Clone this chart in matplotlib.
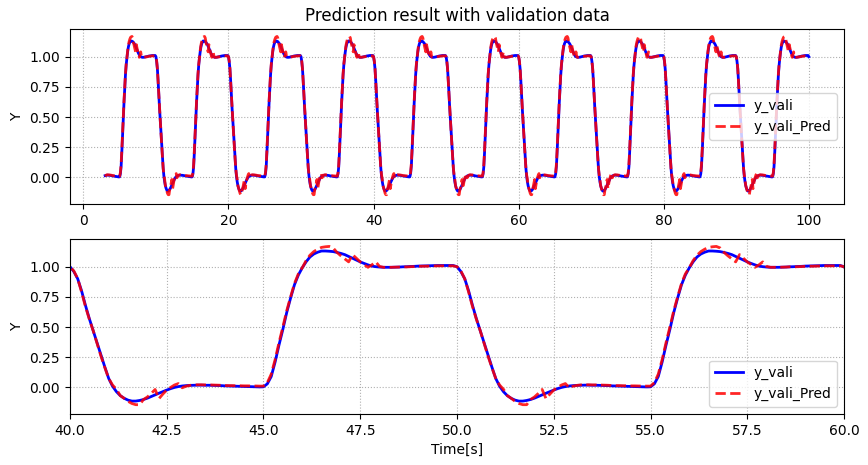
import numpy as np
import matplotlib
matplotlib.use("Agg")
import matplotlib.pyplot as plt

# One cycle (10 s, 0.1 s step) of the validation output, starting at a falling edge
y_cycle = [
    1.000, 0.960, 0.900, 0.800, 0.680, 0.570, 0.470, 0.370, 0.270, 0.170,
    0.075, 0.010, -0.035, -0.068, -0.090, -0.105, -0.113, -0.113, -0.108, -0.100,
    -0.089, -0.075, -0.062, -0.048, -0.035, -0.022, -0.010, 0.000, 0.007, 0.012,
    0.015, 0.017, 0.018, 0.019, 0.019, 0.018, 0.018, 0.017, 0.016, 0.015,
    0.013, 0.012, 0.011, 0.010, 0.009, 0.008, 0.007, 0.006, 0.005, 0.004,
    0.005, 0.030, 0.090, 0.210, 0.350, 0.480, 0.620, 0.740, 0.850, 0.930,
    0.990, 1.040, 1.080, 1.105, 1.120, 1.130, 1.130, 1.128, 1.125, 1.118,
    1.110, 1.100, 1.085, 1.070, 1.055, 1.040, 1.027, 1.015, 1.005, 1.000,
    0.997, 0.995, 0.995, 0.995, 0.996, 0.997, 0.999, 1.000, 1.002, 1.003,
    1.005, 1.006, 1.007, 1.008, 1.009, 1.010, 1.010, 1.010, 1.010, 1.010,
]

# One cycle of the prediction, read as its deviation from the validation output
pred_dev_cycle = [
    0.000, 0.005, 0.000, -0.010, -0.010, -0.005, 0.000, -0.005, -0.010, -0.005,
    0.000, 0.010, 0.020, 0.000, 0.000, -0.010, -0.020, -0.030, -0.035, 0.000,
    0.010, 0.025, 0.045, -0.045, -0.020, 0.000, 0.010, 0.020, 0.025, -0.015,
    -0.005, 0.000, 0.003, 0.003, 0.003, 0.003, 0.003, 0.003, 0.003, 0.003,
    0.003, 0.003, 0.004, 0.004, 0.005, 0.005, 0.006, 0.006, 0.007, 0.007,
    0.006, 0.010, 0.020, 0.020, 0.020, 0.020, 0.015, 0.010, 0.010, 0.010,
    0.000, 0.010, 0.015, 0.020, 0.025, 0.030, 0.035, 0.040, 0.030, 0.000,
    -0.020, -0.035, -0.045, 0.030, 0.015, 0.000, -0.010, -0.020, 0.010, 0.040,
    0.005, 0.000, 0.000, 0.000, 0.000, 0.000, 0.000, -0.002, -0.002, -0.002,
    -0.002, -0.002, -0.003, -0.003, -0.003, -0.003, -0.003, -0.003, -0.003, -0.003,
]

t_start = 3.0      # first sample [s]
t_end = 100.0      # last sample [s]
dt = 0.1           # sampling step [s]
n_cycles = 11

idx0 = int(round(t_start / dt))
idx1 = int(round(t_end / dt)) + 1
time = np.arange(idx0, idx1) * dt
y_vali = np.tile(np.array(y_cycle), n_cycles)[idx0:idx1]
y_vali_pred = (np.tile(np.array(y_cycle), n_cycles)
               + np.tile(np.array(pred_dev_cycle), n_cycles))[idx0:idx1]

fig = plt.figure(figsize=(8.68, 4.65), dpi=100)
ax1 = fig.add_axes([0.0806, 0.5613, 0.8918, 0.3757])
ax2 = fig.add_axes([0.0806, 0.1097, 0.8918, 0.3757])

for ax in (ax1, ax2):
    ax.plot(time, y_vali, color="b", lw=2, label="y_vali")
    ax.plot(time, y_vali_pred, color="r", lw=2, ls="--", alpha=0.85, label="y_vali_Pred")
    ax.set_ylabel("Y")
    ax.grid(True, ls=":")
    ax.set_ylim(-0.22, 1.227)

ax1.set_title("Prediction result with validation data")
ax1.legend(loc="center right")
ax2.set_xlim(40, 60)
ax2.set_xlabel("Time[s]")
ax2.legend(loc="lower right")

fig.savefig("out.png", dpi=100)
